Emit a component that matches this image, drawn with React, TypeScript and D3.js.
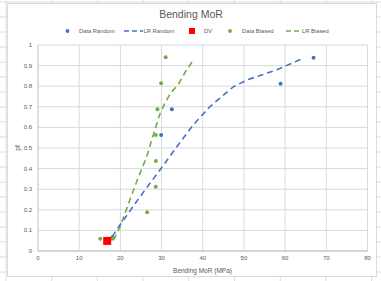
import React from "react";
import * as d3 from "d3";

const randomX = [18, 29.9, 32.5, 58.9, 66.9];
const randomY = [0.065, 0.563, 0.688, 0.812, 0.938];
const biasedX = [15.1, 18, 26.5, 28.6, 28.6, 28.6, 29, 29.9, 31];
const biasedY = [0.06, 0.06, 0.188, 0.312, 0.437, 0.563, 0.688, 0.814, 0.94];
const dvX = [16.8];
const dvY = [0.049];
const lrRandomX = [18, 19.9, 24.8, 29.6, 33.7, 37.7, 41.7, 47.4, 50.7, 57.9, 64.3];
const lrRandomY = [0.07, 0.126, 0.264, 0.393, 0.506, 0.612, 0.70, 0.797, 0.83, 0.879, 0.935];
const lrBiasedX = [18.3, 20, 22.3, 24.3, 26.4, 28, 29.6, 30.8, 32.3, 34, 35.8, 37.7];
const lrBiasedY = [0.053, 0.12, 0.248, 0.355, 0.458, 0.565, 0.665, 0.717, 0.77, 0.806, 0.87, 0.927];
const xTicks = [0, 10, 20, 30, 40, 50, 60, 70, 80];
const yTicks = [0, 0.1, 0.2, 0.3, 0.4, 0.5, 0.6, 0.7, 0.8, 0.9, 1];
const yTickLabels = ["0", "0.1", "0.2", "0.3", "0.4", "0.5", "0.6", "0.7", "0.8", "0.9", "1"];

const W = 381, H = 281;
const font = "'Liberation Sans', Arial, sans-serif";
const txt = "#595959";
const blue = "#4472C4";
const green = "#70AD47";

export default function App() {
  const x = d3.scaleLinear().domain([0, 80]).range([38, 367.5]);
  const y = d3.scaleLinear().domain([0, 1]).range([251, 45]);
  const line = d3.line<[number, number]>().x(d => x(d[0])).y(d => y(d[1])).curve(d3.curveLinear);
  const lrR = lrRandomX.map((v, i) => [v, lrRandomY[i]] as [number, number]);
  const lrB = lrBiasedX.map((v, i) => [v, lrBiasedY[i]] as [number, number]);

  const sheetCols = d3.range(6, 381, 45.7);
  const sheetRows = d3.range(2, 281, 15);

  return (
    <svg width={W} height={H} style={{ position: "absolute", left: 0, top: 0, background: "#fff" }}>
      {sheetCols.map((c, i) => <line key={"sc" + i} x1={c} x2={c} y1={0} y2={H} stroke="#dcdcdc" strokeWidth={1} />)}
      {sheetRows.map((r, i) => <line key={"sr" + i} x1={0} x2={W} y1={r} y2={r} stroke="#dcdcdc" strokeWidth={1} />)}
      <rect x={7.5} y={3.5} width={369} height={273} fill="#fff" stroke="#d9d9d9" />
      <text x={191} y={18} textAnchor="middle" fontFamily={font} fontSize={10.5} fill={txt}>Bending MoR</text>

      {/* legend */}
      <g fontFamily={font} fontSize={5.8} fill={txt}>
        <circle cx={67.5} cy={31} r={1.9} fill={blue} />
        <text x={79} y={33}>Data Random</text>
        <line x1={124} x2={143} y1={31} y2={31} stroke={blue} strokeWidth={1.3} strokeDasharray="5,3" />
        <text x={143.5} y={33}>LR Random</text>
        <rect x={189} y={28} width={6} height={6} fill="#FF0000" />
        <text x={204} y={33}>DV</text>
        <circle cx={230} cy={31} r={1.9} fill={green} />
        <text x={242} y={33}>Data Biased</text>
        <line x1={286} x2={301} y1={31} y2={31} stroke={green} strokeWidth={1.3} strokeDasharray="5,3" />
        <text x={302} y={33}>LR Biased</text>
      </g>

      {/* gridlines */}
      {xTicks.map((t, i) => i === 0 ? null : <line key={"gx" + i} x1={x(t)} x2={x(t)} y1={y(1)} y2={y(0)} stroke="#d9d9d9" strokeWidth={1} />)}
      {yTicks.map((t, i) => <line key={"gy" + i} x1={x(0)} x2={x(80)} y1={y(t)} y2={y(t)} stroke="#d9d9d9" strokeWidth={1} />)}
      <line x1={x(0)} x2={x(0)} y1={y(1)} y2={y(0)} stroke="#bfbfbf" strokeWidth={1} />
      <line x1={x(0)} x2={x(80)} y1={y(0)} y2={y(0)} stroke="#bfbfbf" strokeWidth={1} />

      {/* tick labels */}
      <g fontFamily={font} fontSize={6} fill={txt}>
        {yTicks.map((t, i) => <text key={"yl" + i} x={32} y={y(t) + 2} textAnchor="end">{yTickLabels[i]}</text>)}
        {xTicks.map((t, i) => <text key={"xl" + i} x={x(t)} y={260} textAnchor="middle">{t}</text>)}
      </g>
      <text x={202.5} y={272.5} textAnchor="middle" fontFamily={font} fontSize={6.5} fill={txt}>Bending MoR (MPa)</text>
      <text transform={`translate(19.5,148) rotate(-90)`} textAnchor="middle" fontFamily={font} fontSize={6.5} fill={txt}>pf</text>

      {/* fit lines */}
      <path d={line(lrR) || ""} fill="none" stroke={blue} strokeWidth={1.6} strokeDasharray="6,4" />
      <path d={line(lrB) || ""} fill="none" stroke={green} strokeWidth={1.6} strokeDasharray="6,4" />

      {/* data */}
      {randomX.map((v, i) => <circle key={"r" + i} cx={x(v)} cy={y(randomY[i])} r={2} fill={blue} />)}
      {biasedX.map((v, i) => <circle key={"b" + i} cx={x(v)} cy={y(biasedY[i])} r={2} fill={green} />)}
      {dvX.map((v, i) => <rect key={"d" + i} x={x(v) - 4} y={y(dvY[i]) - 4} width={8} height={8} fill="#FF0000" />)}
    </svg>
  );
}
